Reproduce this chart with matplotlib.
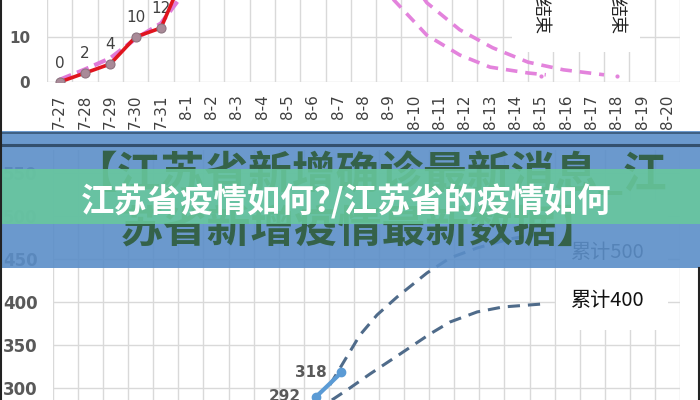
import matplotlib
matplotlib.use("Agg")
import numpy as np
import matplotlib.pyplot as plt
from matplotlib.patches import Rectangle

CJK = ["Noto Sans CJK SC", "DejaVu Sans"]
plt.rcParams["font.family"] = ["DejaVu Sans"]

# ---------------------------------------------------------------------------
# data (top chart: 7-27 ... 8-20, index 0 = 7-27)
top_dates = ["7-27", "7-28", "7-29", "7-30", "7-31"] + [f"8-{d}" for d in range(1, 21)]
confirmed_idx = [0, 1, 2, 3, 4, 5]
confirmed = [0, 2, 4, 10, 12, 25]
confirmed_labels = ["0", "2", "4", "10", "12", ""]
trend_idx = [0, 1, 2, 3, 4, 5]
trend = [0.5, 2.8, 5.3, 9.6, 13.0, 20.5]

# two forecast curves (day offset from 7-27, new cases)
fc_a_idx = [12.4, 13.2, 14.5, 15.8, 17.0, 18.5, 19.2]
fc_a = [26.0, 18.2, 10.4, 6.0, 3.3, 2.0, 1.6]
fc_b_idx = [13.7, 14.5, 15.8, 17.1, 18.5, 19.9, 21.5]
fc_b = [24.0, 17.6, 11.6, 7.6, 4.4, 2.7, 1.6]
end_idx = [19, 22]          # 8-15, 8-18
end_vals = [1.3, 1.3]
end_text = "结束"

# bottom chart: cumulative
cum_idx = [10, 11]
cum = [290, 318]
cum_labels = ["292", "318"]
up_idx = [10.54, 11.14, 11.74, 12.42, 13.22, 14.41, 15.33, 16.41, 17.72, 19.12]
up_vals = [303.5, 332.6, 361.6, 384.9, 405.8, 433.7, 451.2, 462.8, 473.3, 480.2]
lo_idx = [10.62, 11.34, 12.14, 13.34, 14.53, 15.33, 16.41, 17.44, 19.04]
lo_vals = [286.0, 300.0, 316.3, 339.5, 362.8, 376.7, 388.4, 394.2, 397.7]
cum_ticks = [250, 300, 350, 400, 450, 500, 550]
cap_labels = ["累计500", "累计400"]

title = "江苏省疫情如何?/江苏省的疫情如何"
bg_title = ["【江苏省新增确诊最新消息_江", "苏省新增疫情最新数据】"]

W, H = 700, 400
fig = plt.figure(figsize=(7, 4), dpi=100, facecolor="white")

def box(l, t, r, b):
    # pixel box (top-left origin) -> figure fraction
    return [l / W, 1 - b / H, (r - l) / W, (b - t) / H]

GRID = "#d9d9d9"

# ---------------------------------------------------------------------------
# top chart
ax1 = fig.add_axes(box(47, -100, 680, 82))
ax1.set_xlim(-0.5, 24.5)
ax1.set_ylim(0, 40.4)
for s in ax1.spines.values():
    s.set_visible(False)
ax1.set_xticks(range(25))
ax1.set_xticklabels(top_dates, rotation=90, fontsize=11, color="#404040")
ax1.set_xticks(np.arange(-0.5, 25, 1), minor=True)
ax1.set_yticks([0, 10])
ax1.set_yticklabels(["0", "10"], fontsize=11, fontweight="bold",
                    color="#595959")
ax1.tick_params(axis="both", which="both", length=0)
ax1.tick_params(axis="x", pad=9)
ax1.tick_params(axis="y", pad=12)
for yv in (20, 30, 40):
    ax1.axhline(yv, color=GRID, lw=1, zorder=0)
ax1.grid(True, axis="y", color=GRID, lw=1)
ax1.grid(True, axis="x", which="minor", color=GRID, lw=1)
ax1.set_axisbelow(True)

ax1.plot(trend_idx, trend, color="#e07ad8", lw=3, ls=(0, (3, 1.5)), zorder=3,
         clip_on=False)
ax1.plot(confirmed_idx, confirmed, color="#e0141e", lw=2.6, marker="o",
         ms=6.5, mfc="#a98a98", mec="#8d7480", mew=0.8, zorder=4)
for x, y, t in zip(confirmed_idx, confirmed, confirmed_labels):
    ax1.annotate(t, (x, y), xytext=(0, 19), textcoords="offset pixels",
                 ha="center", va="center", fontsize=11, color="#404040")
for xs, ys in ((fc_a_idx, fc_a), (fc_b_idx, fc_b)):
    ax1.plot(xs, ys, color="#e383dc", lw=2.6, ls=(0, (3.2, 2.2)), zorder=3)
ax1.plot(end_idx, end_vals, ls="none", marker="o", ms=2, color="#e383dc")

# ---------------------------------------------------------------------------
# bottom chart
ax2 = fig.add_axes(box(53, 150, 680, 440))
ax2.set_xlim(-0.5, 24.5)
ax2.set_ylim(239.5, 576.7)
for s in ax2.spines.values():
    s.set_visible(False)
ax2.set_xticks(np.arange(-0.5, 25, 1), minor=True)
ax2.set_xticks([])
ax2.set_yticks(cum_ticks)
ax2.set_yticklabels([str(v) for v in cum_ticks], fontsize=12,
                    fontweight="bold", color="#595959")
ax2.tick_params(axis="both", which="both", length=0)
ax2.tick_params(axis="y", pad=11)
ax2.grid(True, axis="y", color=GRID, lw=1)
ax2.grid(True, axis="x", which="minor", color=GRID, lw=1)
ax2.set_axisbelow(True)

for xs, ys in ((up_idx, up_vals), (lo_idx, lo_vals)):
    ax2.plot(xs, ys, color="#4f6b8a", lw=2.2, ls=(0, (4, 2.6)), zorder=3)
ax2.plot(cum_idx, cum, color="#5b9bd5", lw=3, marker="o", ms=6, zorder=4)
for x, y, t in zip(cum_idx, cum, cum_labels):
    ax2.annotate(t, (x, y), xytext=(-15, 0), textcoords="offset pixels",
                 ha="right", va="center", fontsize=11, fontweight="bold",
                 color="#595959")

# ---------------------------------------------------------------------------
# overlay in pixel space: label boxes, blue band, banner
ov = fig.add_axes([0, 0, 1, 1], facecolor="none")
ov.set_xlim(0, W)
ov.set_ylim(H, 0)
ov.axis("off")

ov.add_patch(Rectangle((512, -2), 128, 54, fc="white", ec="none", zorder=1))
for i in end_idx:
    xpix = 47 + (i + 0.5) * 25.32
    ov.text(xpix, 16, end_text, rotation=-90, ha="center", va="center",
            fontsize=13, family=CJK, color="#222222", zorder=2)

ov.add_patch(Rectangle((556, 200), 112, 130, fc="white", ec="none", zorder=1))
ov.text(608, 253, cap_labels[0], ha="center", va="center", fontsize=14.5,
        family=CJK, color="#222222", zorder=2)
ov.text(608, 301, cap_labels[1], ha="center", va="center", fontsize=14.5,
        family=CJK, color="#111111", zorder=2)

# blue band
ov.add_patch(Rectangle((0, 131), W, 137, fc="#5b8ec8", ec="none", alpha=0.9,
                       zorder=3))
ov.plot([0, W], [133, 133], color="#34506e", lw=1.1, zorder=3.5)
ov.plot([0, W], [145, 145], color="#34506e", lw=2.2, zorder=3.5)

ov.text(370, 175, bg_title[0], ha="center", va="center", fontsize=31.5,
        fontweight="bold", family=CJK, color="#2f5c3b", alpha=0.9, zorder=4)
ov.text(360, 230, bg_title[1], ha="center", va="center", fontsize=31.5,
        fontweight="bold", family=CJK, color="#2f5c3b", alpha=0.9, zorder=4)

ov.add_patch(Rectangle((0, 169), W, 55, fc="#68c89d", ec="none", alpha=0.88,
                       zorder=5))
ov.text(346, 202, title, ha="center", va="center", fontsize=24,
        fontweight="bold", family=CJK, color="white", zorder=6)

# dark frame edges
ov.plot([0.8, 0.8], [0, H], color="#222222", lw=1.5, zorder=7)
ov.plot([699, 699], [268, H], color="#222222", lw=1.5, zorder=7)

fig.savefig("out.png", dpi=100, facecolor="white")
